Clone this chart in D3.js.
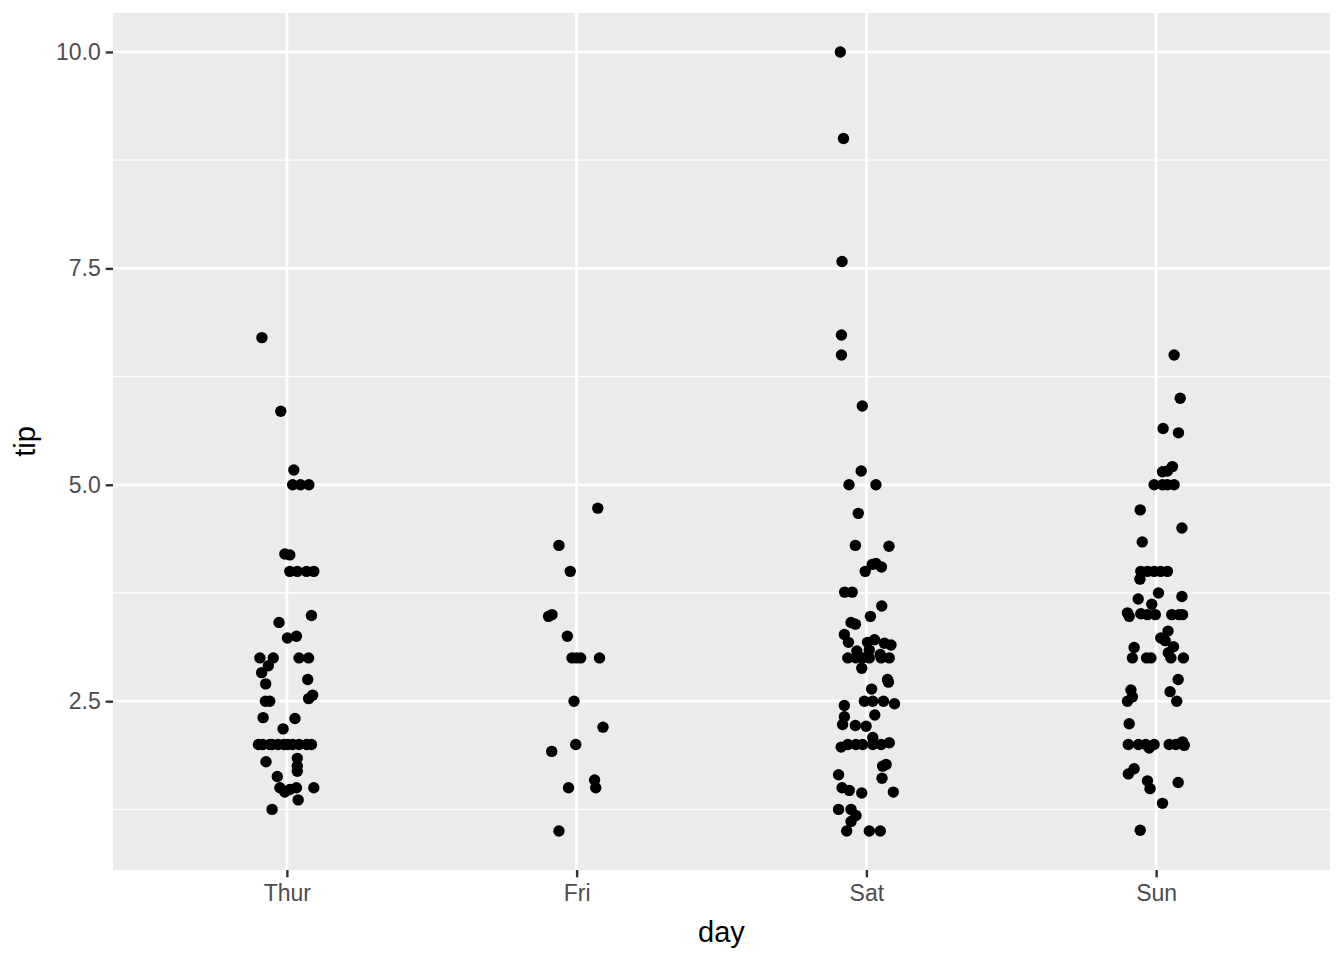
<!DOCTYPE html>
<html><head><meta charset="utf-8">
<script src="https://cdn.jsdelivr.net/npm/d3@7"></script>
<style>body{margin:0;background:#fff}svg{display:block}text{font-family:"Liberation Sans",Arial,Helvetica,sans-serif}</style>
</head><body>
<svg id="chart" width="1344" height="960"></svg>
<script>
const days = ["Thur", "Fri", "Sat", "Sun"];
const yTicks = [2.5, 5.0, 7.5, 10.0];
const yMinor = [1.25, 3.75, 6.25, 8.75];

// tip values and horizontal jitter (in category units) per day
const thurTip = [6.70,5.85,5.17,5.0,5.0,5.0,4.20,4.19,4.0,4.0,4.0,4.0,3.49,3.41,3.23,3.25,3.0,3.0,3.0,3.0,2.91,2.83,2.70,2.75,2.53,2.57,2.5,2.5,2.31,2.30,2.18,2.0,2.0,2.0,2.0,2.0,2.0,2.0,2.0,2.0,2.0,2.0,1.80,1.84,1.75,1.69,1.63,1.50,1.45,1.48,1.50,1.50,1.36,1.25];
const thurJit = [-0.086,-0.021,0.024,0.020,0.047,0.076,-0.007,0.010,0.010,0.036,0.068,0.093,0.085,-0.027,0.002,0.033,-0.093,-0.047,0.042,0.075,-0.064,-0.087,-0.073,0.072,0.075,0.089,-0.074,-0.059,-0.082,0.028,-0.013,-0.098,-0.083,-0.059,-0.051,-0.030,-0.010,0.003,0.020,0.042,0.068,0.085,-0.072,0.036,0.036,0.036,-0.033,-0.024,-0.007,0.010,0.033,0.093,0.039,-0.051];

const friTip = [4.73,4.30,4.0,3.48,3.50,3.25,3.0,3.0,3.0,3.0,2.50,2.20,2.0,1.92,1.59,1.50,1.50,1.0];
const friJit = [0.073,-0.061,-0.022,-0.097,-0.085,-0.032,-0.016,0.000,0.014,0.079,-0.009,0.091,-0.003,-0.086,0.062,0.066,-0.028,-0.061];

const satTip = [10.0,9.0,7.58,6.73,6.50,5.91,5.16,5.0,5.0,4.67,4.30,4.29,4.0,4.08,4.09,4.05,3.76,3.76,3.60,3.48,3.41,3.39,3.27,3.18,3.18,3.21,3.17,3.15,3.08,3.09,3.0,3.0,3.0,3.0,3.0,3.0,3.04,2.88,2.75,2.72,2.64,2.5,2.5,2.5,2.47,2.45,2.34,2.32,2.23,2.22,2.21,1.97,2.0,2.0,2.0,2.08,2.0,2.0,2.02,1.75,1.77,1.65,1.61,1.50,1.47,1.44,1.45,1.25,1.25,1.18,1.11,1.0,1.0,1.0];
const satJit = [-0.090,-0.079,-0.084,-0.086,-0.086,-0.014,-0.018,-0.060,0.033,-0.028,-0.038,0.078,-0.004,0.020,0.033,0.052,-0.075,-0.049,0.053,0.014,-0.053,-0.038,-0.076,-0.062,0.004,0.028,0.062,0.085,-0.033,0.010,-0.064,-0.036,-0.013,0.010,0.051,0.079,0.048,-0.016,0.073,0.076,0.018,-0.007,0.022,0.059,0.097,-0.076,0.029,-0.076,-0.082,-0.038,-0.001,-0.087,-0.064,-0.036,-0.013,0.022,0.022,0.051,0.079,0.056,0.068,-0.096,0.054,-0.084,-0.059,-0.016,0.093,-0.096,-0.053,-0.036,-0.053,-0.068,0.010,0.048];

const sunTip = [6.50,6.0,5.65,5.60,5.21,5.15,5.16,5.0,5.0,5.0,5.0,4.71,4.50,4.34,4.0,4.0,4.0,4.0,4.0,3.91,3.75,3.68,3.71,3.62,3.52,3.48,3.51,3.5,3.5,3.5,3.5,3.5,3.31,3.23,3.20,3.13,3.12,3.0,3.0,3.0,3.0,3.0,3.06,2.75,2.63,2.61,2.55,2.50,2.50,2.24,2.0,2.0,2.0,1.96,2.0,2.0,2.0,2.03,1.99,1.66,1.72,1.58,1.49,1.56,1.32,1.01];
const sunJit = [0.062,0.083,0.024,0.077,0.056,0.022,0.039,-0.007,0.022,0.039,0.062,-0.055,0.089,-0.048,-0.053,-0.030,-0.007,0.016,0.039,-0.056,0.008,-0.062,0.089,-0.015,-0.099,-0.093,-0.053,-0.030,-0.003,0.054,0.079,0.091,0.041,0.016,0.031,0.060,-0.076,-0.082,-0.033,-0.018,0.051,0.094,0.042,0.076,-0.087,0.048,-0.082,-0.099,0.071,-0.093,-0.096,-0.061,-0.036,-0.024,-0.007,0.045,0.068,0.091,0.097,-0.096,-0.076,-0.030,-0.021,0.076,0.022,-0.055];

const tipsByDay = [thurTip, friTip, satTip, sunTip];
const jitByDay = [thurJit, friJit, satJit, sunJit];
const points = [];
days.forEach((d, i) => tipsByDay[i].forEach((t, j) => points.push({day: d, tip: t, jit: jitByDay[i][j]})));

const W = 1344, H = 960;
const P = {left: 113, right: 1330, top: 13, bottom: 870};
const svg = d3.select("#chart");

const x = d3.scalePoint().domain(days).range([P.left, P.right]).padding(0.6);
const yMin = d3.min(points, d => d.tip), yMax = d3.max(points, d => d.tip);
const ex = (yMax - yMin) * 0.05;
const y = d3.scaleLinear().domain([yMin - ex, yMax + ex]).range([P.bottom, P.top]);

svg.append("rect").attr("x", P.left).attr("y", P.top).attr("width", P.right - P.left).attr("height", P.bottom - P.top).attr("fill", "#EBEBEB");

const g = svg.append("g");
g.selectAll(".ymin").data(yMinor).join("line")
  .attr("x1", P.left).attr("x2", P.right).attr("y1", d => y(d)).attr("y2", d => y(d))
  .attr("stroke", "#fff").attr("stroke-width", 1.4);
g.selectAll(".ymaj").data(yTicks).join("line")
  .attr("x1", P.left).attr("x2", P.right).attr("y1", d => y(d)).attr("y2", d => y(d))
  .attr("stroke", "#fff").attr("stroke-width", 2.8);
g.selectAll(".xmaj").data(days).join("line")
  .attr("x1", d => x(d)).attr("x2", d => x(d)).attr("y1", P.top).attr("y2", P.bottom)
  .attr("stroke", "#fff").attr("stroke-width", 2.8);

svg.append("g").selectAll("circle").data(points).join("circle")
  .attr("cx", d => x(d.day) + d.jit * x.step())
  .attr("cy", d => y(d.tip))
  .attr("r", 5.7).attr("fill", "#000");

// axes
const yAxis = svg.append("g").attr("transform", `translate(${P.left},0)`)
  .call(d3.axisLeft(y).tickValues(yTicks).tickFormat(d3.format(".1f")).tickSize(7.3).tickPadding(5));
const xAxis = svg.append("g").attr("transform", `translate(0,${P.bottom})`)
  .call(d3.axisBottom(x).tickSize(7.3).tickPadding(6));
[xAxis, yAxis].forEach(a => {
  a.select(".domain").remove();
  a.selectAll(".tick line").attr("stroke", "#333333").attr("stroke-width", 2.4);
  a.selectAll(".tick text").attr("fill", "#4D4D4D").style("font-size", "23px");
});
xAxis.selectAll(".tick text").attr("dy", "0.75em");

svg.append("text").attr("x", (P.left + P.right) / 2).attr("y", 942)
  .attr("text-anchor", "middle").attr("fill", "#000").style("font-size", "29px").text("day");
svg.append("text").attr("transform", `translate(35,${(P.top + P.bottom) / 2}) rotate(-90)`)
  .attr("text-anchor", "middle").attr("fill", "#000").style("font-size", "29px").text("tip");
</script>
</body></html>
